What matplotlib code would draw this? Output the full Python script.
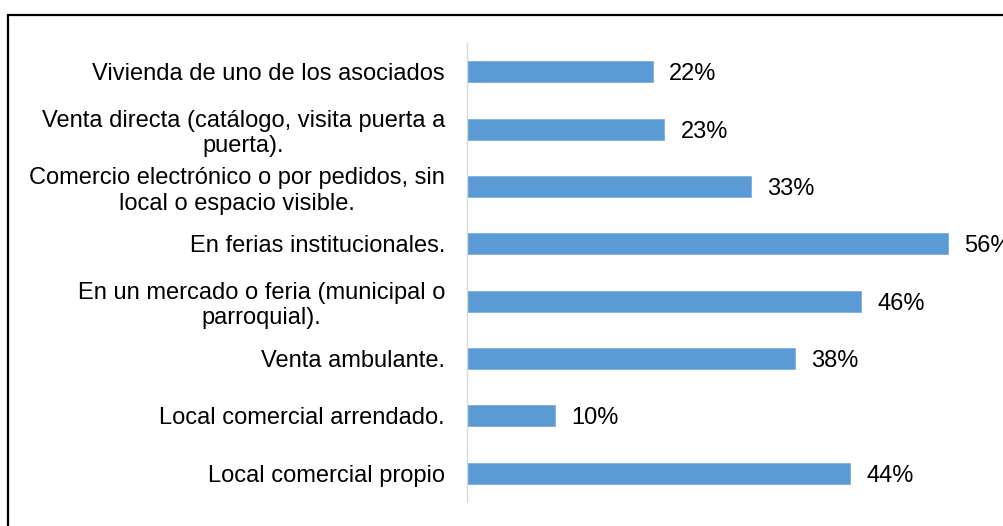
import matplotlib.pyplot as plt
from matplotlib.patches import Rectangle

plt.rcParams['font.family'] = ['Liberation Sans', 'DejaVu Sans']

# categories top to bottom, as in the chart
categories = [
    "Vivienda de uno de los asociados",
    "Venta directa (catálogo, visita puerta a\npuerta).",
    "Comercio electrónico o por pedidos, sin\nlocal o espacio visible.",
    "En ferias institucionales.",
    "En un mercado o feria (municipal o\nparroquial).",
    "Venta ambulante.",
    "Local comercial arrendado.",
    "Local comercial propio",
]
values = [21.55, 22.83, 32.9, 55.7, 45.65, 38.0, 10.2, 44.4]

BLUE = "#5B9BD5"

fig = plt.figure(figsize=(10.04, 5.26), dpi=100)
ax = fig.add_axes([467 / 1004, 1 - 502 / 526, 517.8 / 1004, 459 / 526])

y = range(len(categories))
bars = ax.barh(y, values, height=0.365, color=BLUE, edgecolor="#7FB0DE", linewidth=0.6)

ax.set_xlim(0, 60)
ax.set_ylim(len(categories) - 0.5, -0.5)
ax.set_yticks(list(y))
ax.set_yticklabels(categories, fontsize=17, multialignment="center", linespacing=1.22)
ax.tick_params(axis="y", length=0, pad=15.8)
ax.set_xticks([])

for s in ["top", "right", "bottom"]:
    ax.spines[s].set_visible(False)
ax.spines["left"].set_color("#D9D9D9")
ax.spines["left"].set_linewidth(1.0)

for b, v in zip(bars, values):
    ax.text(v + 1.9, b.get_y() + b.get_height() / 2, f"{round(v):.0f}%",
            va="center_baseline", ha="left", fontsize=17, clip_on=False)

# outer frame (runs off the right and bottom edges)
frame = Rectangle((8 / 1004, -0.1), 1.2, 1 - 15 / 526 + 0.1, transform=fig.transFigure,
                  fill=False, edgecolor="black", linewidth=1.6, clip_on=False)
fig.patches.append(frame)

fig.savefig("out.png", dpi=100)
